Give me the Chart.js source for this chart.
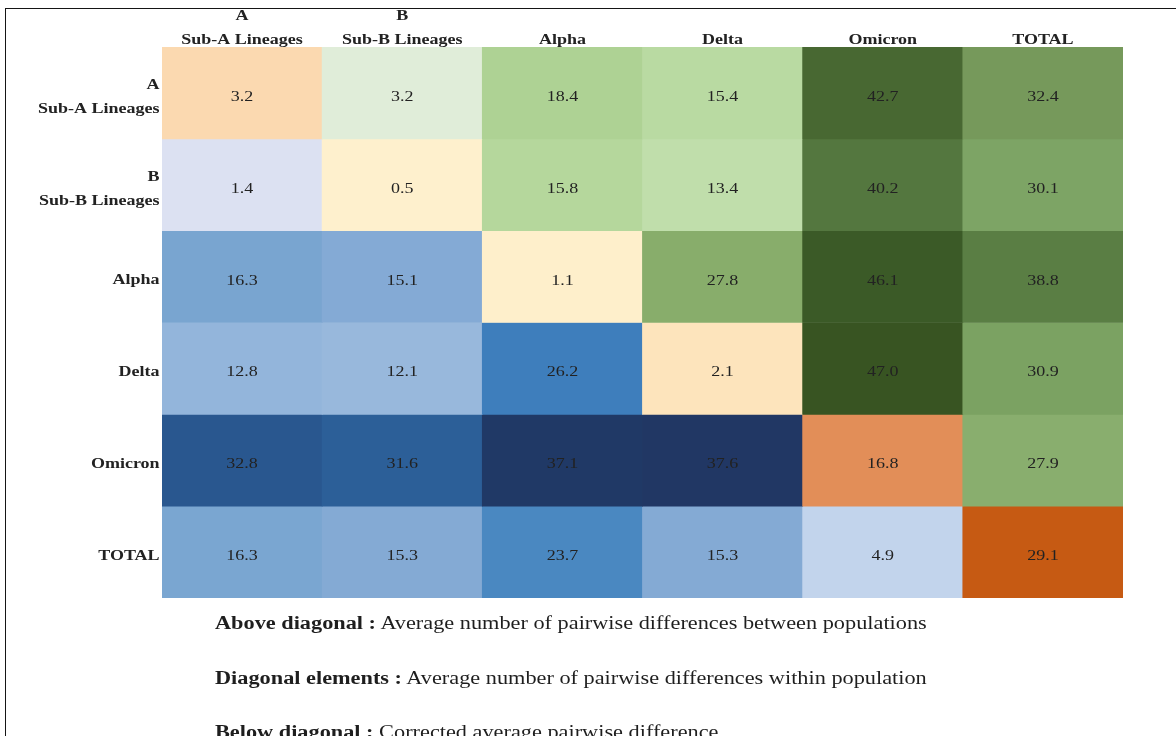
<!DOCTYPE html>
<html>
<head>
<meta charset="utf-8">
<title>Pairwise differences between SARS-CoV-2 lineages</title>
<script src="https://cdn.jsdelivr.net/npm/chart.js@4/dist/chart.umd.min.js"></script>
<style>
  html, body { margin: 0; padding: 0; background: #fff; overflow: hidden; }
  #wrap { position: relative; width: 1176px; height: 736px; overflow: hidden; }
  #frame { position: absolute; left: 5px; top: 8px; width: 1400px; height: 900px;
           border-left: 1.3px solid #151515; border-top: 1.3px solid #151515; box-sizing: border-box; }
  #chart { position: absolute; left: 0; top: 0; }
  .note { position: absolute; left: 215px; font-family: "Liberation Serif", "Times New Roman", serif;
          font-size: 18.5px; line-height: 20px; color: #1e1e1e; white-space: nowrap;
          transform: scaleX(1.205); transform-origin: left center; }
  .note b { font-weight: bold; }
</style>
</head>
<body>
<div id="wrap">
  <div id="frame"></div>
  <canvas id="chart" width="1176" height="736"></canvas>
  <div class="note" style="top:613px"><b>Above diagonal :</b> Average number of pairwise differences between populations</div>
  <div class="note" style="top:668px"><b>Diagonal elements :</b> Average number of pairwise differences within population</div>
  <div class="note" style="top:722px"><b>Below diagonal :</b> Corrected average pairwise difference</div>
</div>
<script>
// Population groups (columns and rows share the same order)
const colLabels = [["A", "Sub-A Lineages"], ["B", "Sub-B Lineages"], "Alpha", "Delta", "Omicron", "TOTAL"];
const rowLabels = [["A", "Sub-A Lineages"], ["B", "Sub-B Lineages"], "Alpha", "Delta", "Omicron", "TOTAL"];

// Pairwise difference values, one array per row
const rowA       = [3.2, 3.2, 18.4, 15.4, 42.7, 32.4];
const rowB       = [1.4, 0.5, 15.8, 13.4, 40.2, 30.1];
const rowAlpha   = [16.3, 15.1, 1.1, 27.8, 46.1, 38.8];
const rowDelta   = [12.8, 12.1, 26.2, 2.1, 47.0, 30.9];
const rowOmicron = [32.8, 31.6, 37.1, 37.6, 16.8, 27.9];
const rowTotal   = [16.3, 15.3, 23.7, 15.3, 4.9, 29.1];
const cellValues = [rowA, rowB, rowAlpha, rowDelta, rowOmicron, rowTotal];

// Cell fills: blue below the diagonal, green above, orange on the diagonal
const colorsA       = ["#FBD9B0", "#E0EDD9", "#AED294", "#B9DAA2", "#486832", "#76995B"];
const colorsB       = ["#DCE1F2", "#FEF0CD", "#B5D79C", "#C0DEAB", "#54773F", "#7DA465"];
const colorsAlpha   = ["#79A5D0", "#84AAD5", "#FEEFCB", "#88AD6B", "#3B5A27", "#5A7E44"];
const colorsDelta   = ["#93B5DB", "#98B8DC", "#3E7EBC", "#FDE4BC", "#385422", "#7BA262"];
const colorsOmicron = ["#29578F", "#2C5F98", "#203966", "#213764", "#E28E58", "#89AE6E"];
const colorsTotal   = ["#7AA6D1", "#84AAD4", "#4A88C1", "#84AAD4", "#C2D4EC", "#C65A13"];
const cellColors = [colorsA, colorsB, colorsAlpha, colorsDelta, colorsOmicron, colorsTotal];

// Horizontal stretch applied to the whole drawing (wide typesetting of the table)
const SX = 1.2;
const AREA_LEFT = 162, AREA_RIGHT = 1123, AREA_TOP = 47, AREA_BOTTOM = 598;

const stretchPlugin = {
  id: 'stretch',
  beforeDraw(chart) { chart.ctx.save(); chart.ctx.scale(SX, 1); },
  afterDraw(chart) { chart.ctx.restore(); }
};

const cellLabelPlugin = {
  id: 'cellLabels',
  afterDatasetsDraw(chart) {
    const ctx = chart.ctx;
    ctx.save();
    ctx.font = '15px "Liberation Serif", "Times New Roman", serif';
    ctx.fillStyle = '#222';
    ctx.textAlign = 'center';
    ctx.textBaseline = 'middle';
    chart.data.datasets.forEach((ds, r) => {
      chart.getDatasetMeta(r).data.forEach((bar, c) => {
        ctx.fillText(cellValues[r][c].toFixed(1), bar.x, (bar.y + bar.base) / 2 + 4);
      });
    });
    ctx.restore();
  }
};

const datasets = rowLabels.map((name, r) => ({
  label: Array.isArray(name) ? name.join(' ') : name,
  data: colLabels.map(() => [r, r + 1]),
  backgroundColor: cellColors[r],
  borderWidth: 0,
  barPercentage: 1,
  categoryPercentage: 1,
  grouped: false
}));

const tickFont = { family: '"Liberation Serif", "Times New Roman", serif', size: 15, weight: 'bold', lineHeight: 1.6 };

new Chart(document.getElementById('chart'), {
  type: 'bar',
  data: { labels: colLabels, datasets },
  options: {
    responsive: false,
    animation: false,
    events: [],
    layout: {
      padding: { left: 0, top: 0, right: 1176 - AREA_RIGHT / SX, bottom: 736 - AREA_BOTTOM }
    },
    plugins: { legend: { display: false }, tooltip: { enabled: false }, title: { display: false } },
    scales: {
      x: {
        type: 'category',
        position: 'top',
        grid: { display: false, drawTicks: false },
        border: { display: false },
        ticks: { font: tickFont, color: '#222', padding: -5, maxRotation: 0, autoSkip: false },
        afterFit(scale) { scale.height = AREA_TOP; }
      },
      y: {
        type: 'linear',
        min: 0,
        max: rowLabels.length,
        reverse: true,
        grid: { display: false, drawTicks: false },
        border: { display: false },
        afterBuildTicks(axis) { axis.ticks = rowLabels.map((_, i) => ({ value: i + 0.5 })); },
        ticks: {
          font: tickFont, color: '#222', padding: 2, labelOffset: 4, autoSkip: false,
          callback: (v, i) => rowLabels[i]
        },
        afterFit(scale) { scale.width = AREA_LEFT / SX; }
      }
    }
  },
  plugins: [stretchPlugin, cellLabelPlugin]
});
</script>
</body>
</html>
